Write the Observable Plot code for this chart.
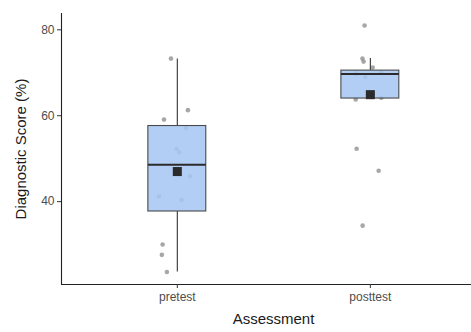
<!DOCTYPE html>
<html>
<head>
<meta charset="utf-8">
<script src="https://cdn.jsdelivr.net/npm/d3@7"></script>
<script src="https://cdn.jsdelivr.net/npm/@observablehq/plot@0.6"></script>
<style>
  html, body { margin: 0; padding: 0; background: white; overflow: hidden; }
  svg { overflow: hidden; }
</style>
</head>
<body>
<div id="chart"></div>
<script>
// Categories (x axis tick labels)
const categories = ["pretest", "posttest"];

// Box summary statistics
const q1 = [37.7, 64.0];
const medians = [48.6, 69.7];
const q3 = [57.6, 70.5];
const whiskerLow = [23.6, 64.0];
const whiskerHigh = [73.2, 73.3];
const means = [47.0, 64.9];

// Individual scores (jittered points)
const pretestScores = [73.3, 61.3, 59.1, 57.1, 52.3, 51.5, 45.9, 41.2, 40.4, 30.0, 27.6, 23.6];
const pretestJitter = [-0.033, 0.055, -0.069, 0.045, -0.004, 0.010, 0.065, -0.095, 0.022, -0.076, -0.080, -0.054];
const posttestScores = [81.0, 73.3, 72.6, 71.2, 70.0, 69.8, 69.0, 64.2, 63.8, 52.3, 47.2, 34.4];
const posttestJitter = [-0.030, -0.041, -0.035, 0.012, 0.057, -0.072, -0.026, 0.057, -0.076, -0.071, 0.043, -0.040];

const yTicks = [40, 60, 80];

const stats = categories.map((c, k) => ({
  pos: k + 1, cat: c, q1: q1[k], median: medians[k], q3: q3[k],
  lo: whiskerLow[k], hi: whiskerHigh[k], mean: means[k]
}));
const points = [
  ...pretestScores.map((v, j) => ({pos: 1 + pretestJitter[j], score: v})),
  ...posttestScores.map((v, j) => ({pos: 2 + posttestJitter[j], score: v}))
];

const half = 0.15;
const font = "'Liberation Sans', Arial, Helvetica, sans-serif";

const chart = Plot.plot({
  width: 471,
  height: 332,
  marginLeft: 61,
  marginRight: 0,
  marginTop: 13,
  marginBottom: 48,
  style: {fontFamily: font, background: "white"},
  x: {domain: [0.4, 2.524], axis: null},
  y: {domain: [20.7, 83.8], axis: null},
  marks: [
    // jittered points (under the box)
    Plot.dot(points, {x: "pos", y: "score", r: 2.3, fill: "#8a8a8a", fillOpacity: 0.75, stroke: "none"}),
    // whiskers
    Plot.ruleX(stats, {x: "pos", y1: "lo", y2: "q1", stroke: "#333333", strokeWidth: 1.1}),
    Plot.ruleX(stats, {x: "pos", y1: "q3", y2: "hi", stroke: "#333333", strokeWidth: 1.1}),
    // box
    Plot.rect(stats, {x1: d => d.pos - half, x2: d => d.pos + half, y1: "q1", y2: "q3",
      fill: "#a9c7f2", fillOpacity: 0.88, stroke: "#4a4a4a", strokeWidth: 1.1}),
    // median
    Plot.ruleY(stats, {y: "median", x1: d => d.pos - half, x2: d => d.pos + half, stroke: "#2b2b2b", strokeWidth: 2}),
    // mean
    Plot.dot(stats, {x: "pos", y: "mean", symbol: "square", r: 5.1, fill: "#2b2b2b", stroke: "none"}),
    // axis lines
    Plot.ruleX([0.4], {stroke: "#222", strokeWidth: 1.1}),
    Plot.ruleY([20.7], {stroke: "#222", strokeWidth: 1.1}),
    // axes
    Plot.axisY({ticks: yTicks, tickSize: 4, tickPadding: 3, label: null, fontSize: 12,
      stroke: "#333", color: "#4d4d4d"}),
    Plot.axisX({ticks: [1, 2], tickFormat: d => categories[d - 1], tickSize: 4, tickPadding: 4,
      label: null, fontSize: 12, stroke: "#333", color: "#4d4d4d"}),
    // axis titles
    Plot.text(["Diagnostic Score (%)"], {frameAnchor: "left", dx: -40, rotate: -90,
      fontSize: 15, fill: "#1a1a1a", textAnchor: "middle"}),
    Plot.text(["Assessment"], {frameAnchor: "bottom", dx: 7, dy: 39,
      fontSize: 15, fill: "#1a1a1a", textAnchor: "middle"})
  ]
});
document.getElementById("chart").appendChild(chart);
</script>
</body>
</html>
